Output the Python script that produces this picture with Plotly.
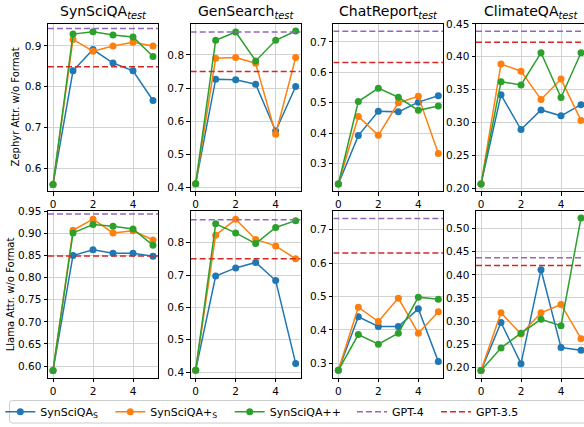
import plotly.graph_objects as go

# ---------------- data ----------------
steps = [0, 1, 2, 3, 4, 5]
datasets = ["SynSciQA", "GenSearch", "ChatReport", "ClimateQA"]
row_labels = ["Zephyr Attr. w/o Format", "Llama Attr. w/o Format"]
series_names = ["SynSciQA<sub>S</sub>", "SynSciQA+<sub>S</sub>", "SynSciQA++"]
baseline_names = ["GPT-4", "GPT-3.5"]
x_tick_vals = [0, 2, 4]

# Zephyr row: one list per dataset (SynSciQA, GenSearch, ChatReport, ClimateQA)
zephyr_s = [
    [0.560, 0.839, 0.891, 0.858, 0.839, 0.766],
    [0.412, 0.727, 0.725, 0.712, 0.571, 0.705],
    [0.233, 0.392, 0.472, 0.470, 0.502, 0.523],
    [0.206, 0.342, 0.289, 0.319, 0.310, 0.327],
]
zephyr_plus_s = [
    [0.560, 0.916, 0.887, 0.900, 0.909, 0.900],
    [0.412, 0.790, 0.792, 0.775, 0.561, 0.792],
    [0.233, 0.455, 0.393, 0.500, 0.521, 0.333],
    [0.206, 0.389, 0.378, 0.335, 0.366, 0.303],
]
zephyr_pp = [
    [0.560, 0.929, 0.935, 0.927, 0.922, 0.874],
    [0.412, 0.844, 0.869, 0.782, 0.844, 0.872],
    [0.233, 0.504, 0.548, 0.518, 0.475, 0.489],
    [0.206, 0.362, 0.357, 0.406, 0.338, 0.406],
]
zephyr_gpt4 = [0.943, 0.869, 0.735, 0.439]
zephyr_gpt35 = [0.849, 0.750, 0.632, 0.422]

# Llama row
llama_s = [
    [0.590, 0.850, 0.863, 0.855, 0.855, 0.848],
    [0.406, 0.697, 0.722, 0.739, 0.683, 0.427],
    [0.279, 0.439, 0.410, 0.410, 0.463, 0.305],
    [0.193, 0.297, 0.208, 0.411, 0.243, 0.237],
]
llama_plus_s = [
    [0.590, 0.907, 0.932, 0.901, 0.906, 0.885],
    [0.406, 0.823, 0.872, 0.810, 0.790, 0.750],
    [0.279, 0.468, 0.425, 0.495, 0.390, 0.454],
    [0.193, 0.318, 0.272, 0.318, 0.336, 0.262],
]
llama_pp = [
    [0.590, 0.901, 0.920, 0.916, 0.910, 0.873],
    [0.406, 0.858, 0.830, 0.797, 0.847, 0.868],
    [0.279, 0.386, 0.357, 0.390, 0.498, 0.492],
    [0.193, 0.242, 0.274, 0.304, 0.290, 0.523],
]
llama_gpt4 = [0.944, 0.871, 0.733, 0.437]
llama_gpt35 = [0.849, 0.750, 0.630, 0.420]

# ---------------- styling / layout ----------------
W, H = 584, 427
FONT = "DejaVu Sans"
colors = ["#1f77b4", "#ff7f0e", "#2ca02c"]
gpt_colors = ["#9467bd", "#d62728"]

rows = [
    [zephyr_s, zephyr_plus_s, zephyr_pp, zephyr_gpt4, zephyr_gpt35],
    [llama_s, llama_plus_s, llama_pp, llama_gpt4, llama_gpt35],
]

col_left = [48, 190.67, 333.33, 476]
col_w = 110
row_top = [18.3, 209]
row_bot = [189, 380]
x_ranges = [[-0.25, 5.25], [-0.25, 5.25], [-0.25, 5.25], [-0.25, 5.15]]
y_ranges = [
    [[0.544, 0.954], [0.390, 0.8935], [0.210, 0.759], [0.1955, 0.45]],
    [[0.573, 0.9515], [0.382, 0.899], [0.256, 0.757], [0.177, 0.539]],
]
y_dticks = [[0.1, 0.1, 0.1, 0.05], [0.05, 0.1, 0.1, 0.05]]


def px_x(p):
    return p / W


def px_y(p):
    return 1 - p / H


legend_ids = ["legend", "legend2", "legend3", "legend4", "legend5"]

fig = go.Figure()
layout_axes = {}
annotations = []

for r in range(2):
    data = rows[r]
    for c in range(4):
        k = r * 4 + c + 1
        xa = "x" if k == 1 else f"x{k}"
        ya = "y" if k == 1 else f"y{k}"
        first = (r == 0 and c == 0)
        for i in range(3):
            fig.add_trace(go.Scatter(
                x=steps, y=data[i][c], mode="lines+markers",
                name=series_names[i],
                line=dict(color=colors[i], width=1.5),
                marker=dict(color=colors[i], size=7),
                xaxis=xa, yaxis=ya, showlegend=first,
                legend=legend_ids[i],
            ))
        for j in range(2):
            v = data[3 + j][c]
            fig.add_trace(go.Scatter(
                x=x_ranges[c], y=[v, v], mode="lines",
                name=baseline_names[j],
                line=dict(color=gpt_colors[j], width=1.5, dash="6px,3px"),
                xaxis=xa, yaxis=ya, showlegend=first,
                legend=legend_ids[3 + j],
            ))

        l = col_left[c]
        rgt = min(l + col_w, W)
        common = dict(
            showline=True, linecolor="black", linewidth=1,
            ticks="outside", ticklen=3.5, tickwidth=1, tickcolor="black",
            showgrid=True, gridcolor="#d3d3d3", gridwidth=1,
            zeroline=False,
            tickfont=dict(family=FONT, size=10.5, color="black"),
        )
        layout_axes["xaxis" if k == 1 else f"xaxis{k}"] = dict(
            domain=[px_x(l), px_x(rgt)], anchor=ya,
            range=x_ranges[c], tickvals=x_tick_vals, mirror=True, **common,
        )
        layout_axes["yaxis" if k == 1 else f"yaxis{k}"] = dict(
            domain=[px_y(row_bot[r]), px_y(row_top[r])], anchor=xa,
            range=y_ranges[r][c], dtick=y_dticks[r][c], tick0=0,
            tickformat=".1f" if y_dticks[r][c] == 0.1 else ".2f",
            mirror=(c != 3), **common,
        )
        if r == 0:
            annotations.append(dict(
                text=f"{datasets[c]}<sub><i>test</i></sub>",
                x=px_x(l + col_w / 2), y=px_y(row_top[r]),
                xref="paper", yref="paper", xanchor="center", yanchor="bottom",
                yshift=1, showarrow=False,
                font=dict(family=FONT, size=14, color="black"),
            ))

# row labels
label_x = [15, 10]
for r in range(2):
    annotations.append(dict(
        text=row_labels[r], textangle=-90,
        x=px_x(label_x[r]), y=px_y((row_top[r] + row_bot[r]) / 2),
        xref="paper", yref="paper", xanchor="center", yanchor="middle",
        showarrow=False, font=dict(family=FONT, size=10, color="black"),
    ))

# legends, one per entry, placed along the bottom
legend_text_px = [43.3, 153.3, 272.7, 395, 479]
legends = {}
for i, lid in enumerate(legend_ids):
    legends[lid] = dict(
        orientation="h", x=px_x(legend_text_px[i] - 43), y=px_y(414.5),
        xanchor="left", yanchor="middle", xref="paper", yref="paper",
        bgcolor="rgba(0,0,0,0)", borderwidth=0,
        font=dict(family=FONT, size=11, color="black"),
    )

# legend frame (rounded)
x0, x1, y0, y1, rad = 9.5, 600, 403, 426, 3
path = (f"M{px_x(x0 + rad)},{px_y(y0)} L{px_x(x1)},{px_y(y0)} "
        f"L{px_x(x1)},{px_y(y1)} L{px_x(x0 + rad)},{px_y(y1)} "
        f"Q{px_x(x0)},{px_y(y1)} {px_x(x0)},{px_y(y1 - rad)} "
        f"L{px_x(x0)},{px_y(y0 + rad)} Q{px_x(x0)},{px_y(y0)} {px_x(x0 + rad)},{px_y(y0)}")
shapes = [dict(type="path", path=path, xref="paper", yref="paper",
               line=dict(color="#cccccc", width=1), fillcolor="rgba(255,255,255,0.8)",
               layer="below")]

fig.update_layout(
    width=W, height=H,
    margin=dict(l=0, r=0, t=0, b=0),
    paper_bgcolor="white", plot_bgcolor="white",
    font=dict(family=FONT, size=11, color="black"),
    annotations=annotations, shapes=shapes,
    **layout_axes, **legends,
)

fig.write_html(
    "out.html",
    config={"displayModeBar": False},
    post_script="document.body.style.margin='0px';document.body.style.overflow='hidden';",
)
